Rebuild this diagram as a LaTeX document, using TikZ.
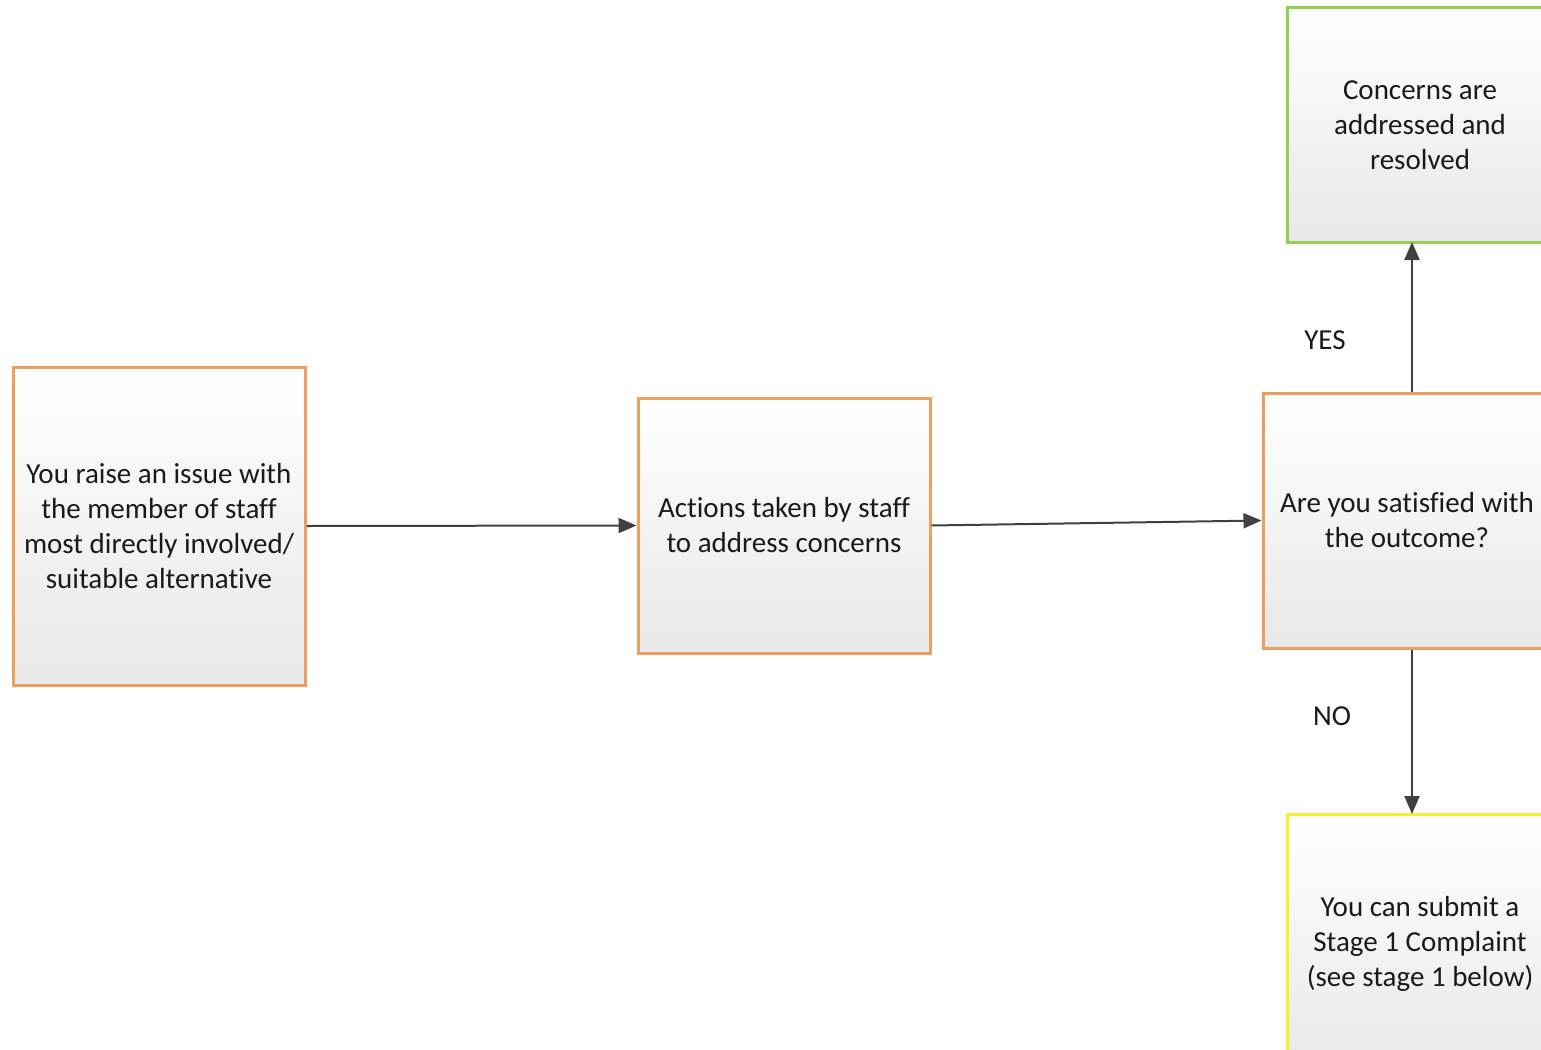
\documentclass[tikz,border=0pt]{standalone}
\usepackage{fontspec}
\setmainfont[Ligatures=NoCommon]{Carlito}
\usetikzlibrary{arrows.meta,shadows}
\definecolor{orangeb}{HTML}{EBA060}
\definecolor{greenb}{HTML}{92D050}
\definecolor{yellowb}{HTML}{F2F230}
\definecolor{arrowc}{HTML}{404040}
\definecolor{txt}{HTML}{1A1A1A}
\tikzset{
  box/.style={draw=orangeb, line width=3pt, top color=white, bottom color=black!9,
    minimum width=292pt, minimum height=255pt, align=center, text=txt,
    font=\fontsize{29}{35}\selectfont, inner sep=0pt,
    drop shadow={shadow xshift=2pt, shadow yshift=-2pt, opacity=0.25, fill=black!60}},
  conn/.style={draw=arrowc, line width=2pt, -{Triangle[length=18pt,width=15pt]}},
  lbl/.style={text=txt, font=\fontsize{29}{35}\selectfont, inner sep=0pt}
}
\begin{document}
\begin{tikzpicture}[x=1pt,y=-1pt]
\useasboundingbox (0,0) rectangle (1541,1049);
\clip (0,0) rectangle (1541,1049);
\node[box, minimum height=318pt] (a) at (159,526) {You raise an issue with\\the member of staff\\most directly involved/\\suitable alternative};
\node[box] (b) at (784,525.5) {Actions taken by staff\\to address concerns};
\node[box, minimum width=288pt] (c) at (1407,520.5) {Are you satisfied with\\the outcome?};
\node[box, draw=greenb, minimum width=266pt, minimum height=234pt] (d) at (1420,125) {Concerns are\\addressed and\\resolved};
\node[box, draw=yellowb, minimum width=266pt, minimum height=260pt] (e) at (1420,944) {You can submit a\\Stage 1 Complaint\\(see stage 1 below)};
\coordinate (dtip) at (1412,242);
\coordinate (etip) at (1412,814);
\draw[conn] (a.east) -- (b.west);
\draw[conn] (b.east) -- (c.west);
\draw[conn] (c.north -| dtip) -- (dtip);
\draw[conn] (c.south -| etip) -- (etip);
\node[lbl] (yes) at (1325,340) {YES};
\node[lbl] (no) at (1332,716) {NO};
\end{tikzpicture}
\end{document}
